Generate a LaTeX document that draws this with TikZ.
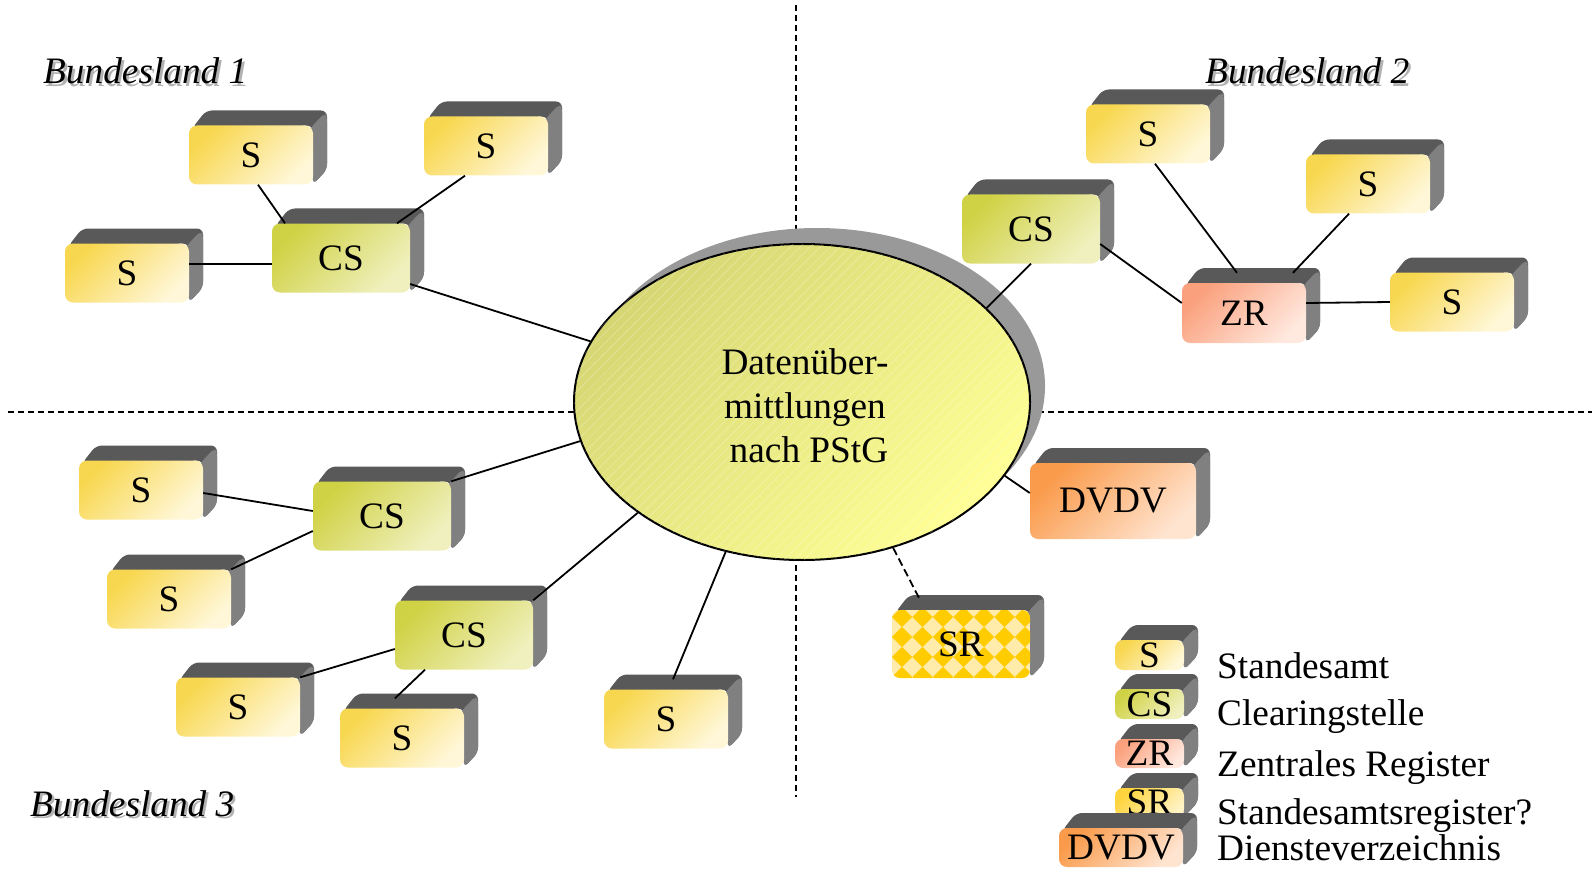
\documentclass[tikz,border=0pt]{standalone}
\usepackage{fontspec}
\setmainfont{Liberation Serif}
\usetikzlibrary{calc,shapes.geometric,patterns.meta}
\definecolor{topface}{RGB}{89,89,89}
\definecolor{sideface}{RGB}{128,128,128}
\definecolor{sA}{RGB}{248,215,80}
\definecolor{sB}{RGB}{255,247,215}
\definecolor{csA}{RGB}{208,210,70}
\definecolor{csB}{RGB}{240,240,190}
\definecolor{zrA}{RGB}{250,160,125}
\definecolor{zrB}{RGB}{255,232,222}
\definecolor{dvA}{RGB}{250,155,75}
\definecolor{dvB}{RGB}{255,228,208}
\definecolor{srA}{RGB}{255,204,0}
\definecolor{srL}{RGB}{255,236,170}
\definecolor{slA}{RGB}{255,212,60}
\definecolor{slB}{RGB}{255,242,195}
\definecolor{elA}{RGB}{214,214,115}
\definecolor{elB}{RGB}{255,255,150}
\definecolor{shadowgray}{RGB}{153,153,153}
\newcommand\bigfont{\fontsize{37.3}{44}\selectfont}
\newcommand\tdext[4]{%
  \pgfmathsetmacro\tdL{#1-#3/2}\pgfmathsetmacro\tdR{#1+#3/2}%
  \pgfmathsetmacro\tdT{#2-#4/2}\pgfmathsetmacro\tdB{#2+#4/2}%
  \fill[topface,rounded corners=6pt] (\tdL+3,\tdT+3) -- (\tdL+17,\tdT-15) -- (\tdR+14,\tdT-15) -- (\tdR+14,\tdB-15) -- (\tdR,\tdB) -- (\tdR,\tdT) -- cycle;
  \fill[sideface,rounded corners=5pt] (\tdR-3,\tdT+3) -- (\tdR+12,\tdT-13) -- (\tdR+14,\tdT-9) -- (\tdR+14,\tdB-15) -- (\tdR,\tdB) -- cycle;
}
\newcommand\tdbox[7]{%
  \tdext{#2}{#3}{#4}{#5}%
  \node[boxbase,#6,minimum width=#4pt,minimum height=#5pt] (#1) at (#2,#3) {#7};%
}
\tikzset{
  boxbase/.style={rounded corners=8pt,inner sep=0pt,font=\bigfont},
  sbox/.style={top color=sA,bottom color=sB,shading angle=45},
  csbox/.style={top color=csA,bottom color=csB,shading angle=45},
  zrbox/.style={top color=zrA,bottom color=zrB,shading angle=45},
  dvbox/.style={top color=dvA,bottom color=dvB,shading angle=45},
  slbox/.style={top color=slA,bottom color=slB,shading angle=45},
  conn/.style={line width=1.8pt,black},
  dconn/.style={line width=1.8pt,black,dash pattern=on 8pt off 4pt},
  axisline/.style={line width=1.4pt,black,dash pattern=on 6pt off 4pt},
  land/.style={font=\bigfont\itshape,anchor=base west,inner sep=0pt},
  landshadow/.style={land,text=black!30},
  legtext/.style={font=\bigfont,anchor=base west,inner sep=0pt}
}
\begin{document}
\begin{tikzpicture}[x=1pt,y=-1pt]
\useasboundingbox (0,0) rectangle (1595,869);
% axes
\coordinate (vtop) at (796,5);
\coordinate (vbot) at (796,797);
\coordinate (hleft) at (8,412);
\coordinate (hright) at (1592,412);
\draw[axisline] (vtop) -- (vbot);
\draw[axisline] (hleft) -- (hright);
% central ellipse
\fill[shadowgray] (817,386) ellipse [x radius=228pt, y radius=158pt];
\node[ellipse,draw,line width=2pt,minimum width=456pt,minimum height=316pt,inner sep=0pt,
      top color=elA,bottom color=elB,shading angle=45,
      postaction={pattern={Lines[angle=45,distance=7pt,line width=0.5pt]},pattern color=white,opacity=0.35},
      font=\bigfont,align=center] (ell) at (802,402) {};
\node[font=\bigfont,align=center,inner sep=0pt] (elltext) at (805,406) {Datenüber-\\mittlungen\\\hspace*{8pt}nach PStG};
% labels
\node[landshadow] at (45.5,86.5) {Bundesland 1};
\node[land] (bl1) at (43,84) {Bundesland 1};
\node[landshadow] at (1207.5,86.5) {Bundesland 2};
\node[land] (bl2) at (1205,84) {Bundesland 2};
\node[landshadow] at (32.5,818.5) {Bundesland 3};
\node[land] (bl3) at (30,816) {Bundesland 3};
% Bundesland 1
\tdbox{S1a}{251}{155}{124}{59}{sbox}{S}
\tdbox{S1b}{486}{146}{124}{59}{sbox}{S}
\tdbox{S1c}{127}{273}{124}{59}{sbox}{S}
\tdbox{CS1}{341}{258}{138}{69}{csbox}{CS}
% Bundesland 2
\tdbox{S2a}{1148}{134}{124}{59}{sbox}{S}
\tdbox{S2b}{1368}{184}{124}{59}{sbox}{S}
\tdbox{S2c}{1452}{302}{124}{59}{sbox}{S}
\tdbox{CS2}{1031}{229}{138}{69}{csbox}{CS}
\tdbox{ZR}{1244}{313}{124}{60}{zrbox}{ZR}
% Bundesland 3
\tdbox{S3a}{141}{490}{124}{59}{sbox}{S}
\tdbox{S3b}{169}{599}{124}{59}{sbox}{S}
\tdbox{CS3a}{382}{516}{138}{69}{csbox}{CS}
\tdbox{CS3b}{464}{635}{138}{69}{csbox}{CS}
\tdbox{S3c}{238}{707}{124}{59}{sbox}{S}
\tdbox{S3d}{402}{738}{124}{59}{sbox}{S}
\tdbox{S3e}{666}{719}{124}{59}{sbox}{S}
% DVDV
\tdbox{DVDV}{1113}{501}{166}{76}{dvbox}{DVDV}
% SR with diamond pattern
\tdext{961}{644}{138}{68}
\begin{scope}
  \clip[rounded corners=8pt] (892,610) rectangle (1030,678);
  \fill[srL] (892,610) rectangle (1030,678);
  \foreach \i in {-1,...,7}{
    \foreach \j in {-1,...,4}{
      \fill[srA] (902+20.5*\i-10.25,617+20*\j) -- ++(10.25,-10) -- ++(10.25,10) -- ++(-10.25,10) -- cycle;
    }
  }
\end{scope}
\node[boxbase,minimum width=138pt,minimum height=68pt] (SR) at (961,644) {SR};
% connectors
\draw[conn] ([xshift=7pt]S1a.south) -- ([xshift=-56pt]CS1.north);
\draw[conn] ([xshift=-21pt]S1b.south) -- ([xshift=56pt]CS1.north);
\draw[conn] ([yshift=9pt]S1c.east) -- ([yshift=-6pt]CS1.west);
\draw[conn] ([yshift=-26pt]CS1.east) -- (ell.164.7);
\draw[conn] (CS2.south) -- (ell.27.9);
\draw[conn] ([yshift=-15pt]CS2.east) -- ([yshift=10pt]ZR.west);
\draw[conn] ([xshift=7pt]S2a.south) -- ([xshift=-7pt,yshift=10pt]ZR.north);
\draw[conn] ([xshift=-19pt]S2b.south) -- ([xshift=49pt,yshift=10pt]ZR.north);
\draw[conn] ([yshift=10pt]ZR.east) -- (S2c.west);
\draw[conn] (CS3a.north east) -- (ell.190.7);
\draw[conn] ([yshift=-3pt]S3a.east) -- ([yshift=5pt]CS3a.west);
\draw[conn] (S3b.north east) -- ([yshift=-15pt]CS3a.west);
\draw[conn] (CS3b.north east) -- (ell.214.8);
\draw[conn] (S3c.north east) -- ([yshift=-14pt]CS3b.west);
\draw[conn] ([xshift=-7pt,yshift=10pt]S3d.north) -- ([xshift=-39pt]CS3b.south);
\draw[conn] ([xshift=7pt,yshift=10pt]S3e.north) -- (ell.243.4);
\draw[conn] ([yshift=8pt]DVDV.west) -- (ell.340.7);
\draw[dconn] (ell.302.8) -- ([xshift=-41pt,yshift=10pt]SR.north);
% legend
\tdbox{LS}{1149.5}{655}{69}{30}{sbox}{S}
\tdbox{LCS}{1149.5}{704}{69}{30}{csbox}{CS}
\tdbox{LZR}{1149.5}{753.5}{69}{29}{zrbox}{ZR}
\tdbox{LSR}{1149.5}{802.5}{69}{29}{slbox}{SR}
\tdbox{LDV}{1121}{847.5}{124}{39}{dvbox}{DVDV}
\node[legtext] (t1) at (1217,678) {Standesamt};
\node[legtext] (t2) at (1217,725) {Clearingstelle};
\node[legtext] (t3) at (1217,776) {Zentrales Register};
\node[legtext] (t4) at (1217,824) {Standesamtsregister?};
\node[legtext] (t5) at (1217,860) {Diensteverzeichnis};
\end{tikzpicture}
\end{document}
